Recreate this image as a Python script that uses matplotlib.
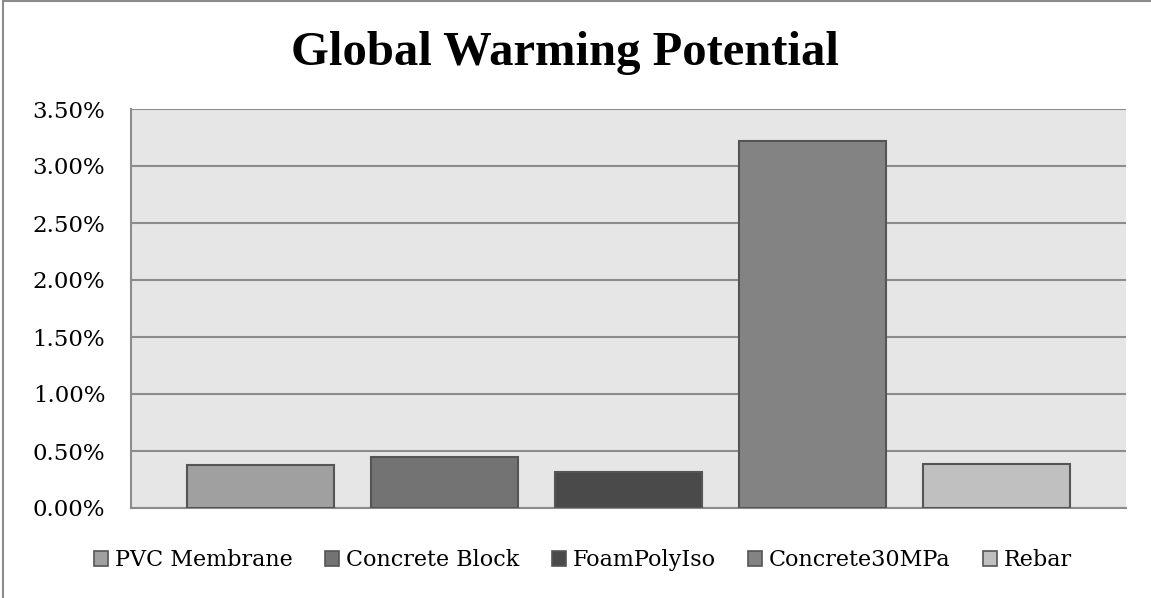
import matplotlib
matplotlib.use('Agg')
from matplotlib import pyplot as plt
from matplotlib.patches import Rectangle
from matplotlib.ticker import FuncFormatter, MultipleLocator

# GWP share per material (percent)
materials = ['PVC Membrane', 'Concrete Block', 'FoamPolyIso', 'Concrete30MPa', 'Rebar']
gwp_pct = [0.38, 0.45, 0.32, 3.22, 0.39]
bar_colors = ['#a0a0a0', '#737373', '#4a4a4a', '#838383', '#c0c0c0']

serif = ['DejaVu Serif']

fig = plt.figure(figsize=(11.51, 5.98), dpi=100)
W, H = 1151, 598

# outer chart frame (only left and top edges fall inside the image)
fig.patches.append(Rectangle((3 / W, -0.05), 1.1, 1.05 - 1 / H, transform=fig.transFigure,
                             fill=False, edgecolor='#8c8c8c', linewidth=1.5))

ax = fig.add_axes([131 / W, 1 - 508 / H, (1126 - 131) / W, (508 - 109) / H])
ax.set_facecolor('#e6e6e6')

x = [i - 2 for i in range(len(materials))]
ax.bar(x, gwp_pct, width=0.8, color=bar_colors, edgecolor='#555555', linewidth=1.5, zorder=3)

ax.set_xlim(-2.704, 2.704)
ax.set_ylim(0, 3.5)
ax.yaxis.set_major_locator(MultipleLocator(0.5))
ax.yaxis.set_major_formatter(FuncFormatter(lambda v, p: '{:.2f}%'.format(v)))
ax.grid(axis='y', color='#8c8c8c', linewidth=1.5, zorder=1)
ax.set_axisbelow(True)
ax.set_xticks([])
ax.tick_params(axis='y', length=0, pad=18.5, labelsize=16.5)
for lab in ax.get_yticklabels():
    lab.set_family(serif)

for side in ['top', 'right']:
    ax.spines[side].set_visible(False)
ax.spines['left'].set_color('#8c8c8c')
ax.spines['left'].set_linewidth(1.5)
ax.spines['bottom'].set_color('#8c8c8c')
ax.spines['bottom'].set_linewidth(1.5)

fig.text(565 / W, 1 - 53 / H, 'Global Warming Potential', ha='center', va='center',
         fontsize=35, fontweight='bold', family=['Liberation Serif'])

handles = [Rectangle((0, 0), 1, 1, facecolor=c, edgecolor='#555555', linewidth=1.2) for c in bar_colors]
fig.legend(handles, materials, loc='center', bbox_to_anchor=(583 / W, 1 - 560 / H), ncol=5,
           frameon=False, handlelength=0.65, handleheight=0.65, handletextpad=0.3,
           columnspacing=1.45, prop={'family': serif, 'size': 16})

plt.savefig('out.png', dpi=100)
plt.close()
